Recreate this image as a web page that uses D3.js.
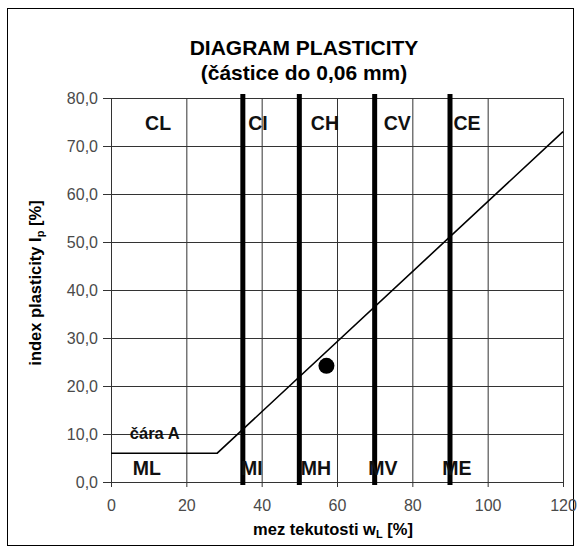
<!DOCTYPE html>
<html lang="cs">
<head>
<meta charset="utf-8">
<title>Diagram plasticity</title>
<script src="https://cdn.jsdelivr.net/npm/d3@7"></script>
<style>
  body { margin: 0; background: #fff; }
  text { font-family: "Liberation Sans", Arial, sans-serif; }
  .grid line, .grid path { stroke: #333; stroke-width: 1; }
  .tick text { fill: #4a4a4a; font-size: 16px; }
  .zone { font-weight: bold; font-size: 19.5px; fill: #111; }
</style>
</head>
<body>
<script>
// data
var xTicks = [0, 20, 40, 60, 80, 100, 120];
var yTicks = [0, 10, 20, 30, 40, 50, 60, 70, 80];
var boundaries = [35, 50, 70, 90];            // hranice tridy (w_L)
var lineA = [[0, 6], [28.2, 6], [120, 73]];    // cara A
var sample = [[57.2, 24.2]];                   // vzorek
var topLabels = ["CL", "CI", "CH", "CV", "CE"];
var topLabelX = [12.5, 39, 56.8, 76, 94.5];
var bottomLabels = ["ML", "MI", "MH", "MV", "ME"];
var bottomLabelX = [9.5, 37.4, 54.4, 72.2, 91.8];

var W = 580, H = 551;
var svg = d3.select("body").append("svg")
    .attr("width", W).attr("height", H);

// outer frame
svg.append("rect")
    .attr("x", 7.5).attr("y", 8.5)
    .attr("width", 566).attr("height", 537)
    .attr("fill", "none").attr("stroke", "#000");

var x = d3.scaleLinear().domain([0, 120]).range([111, 563]);
var y = d3.scaleLinear().domain([0, 80]).range([482, 98]);

// grid
svg.append("g").attr("class", "grid")
  .selectAll("line.v").data(xTicks).enter().append("line")
    .attr("x1", d => x(d) + 0.5).attr("x2", d => x(d) + 0.5)
    .attr("y1", y(80)).attr("y2", y(0) + 5);
svg.append("g").attr("class", "grid")
  .selectAll("line.h").data(yTicks).enter().append("line")
    .attr("y1", d => y(d) + 0.5).attr("y2", d => y(d) + 0.5)
    .attr("x1", x(0) - 8).attr("x2", x(120));

// axes labels (ticks)
var xAxis = d3.axisBottom(x).tickValues(xTicks).tickSize(0).tickPadding(18);
svg.append("g").attr("transform", "translate(0," + y(0) + ")").call(xAxis)
  .call(g => g.select(".domain").remove());
var yAxis = d3.axisLeft(y).tickValues(yTicks).tickSize(0).tickPadding(13)
    .tickFormat(d => d3.format(".1f")(d).replace(".", ","));
svg.append("g").attr("transform", "translate(" + x(0) + ",0)").call(yAxis)
  .call(g => g.select(".domain").remove());

// thick boundaries
svg.append("g").selectAll("line").data(boundaries).enter().append("line")
    .attr("x1", d => x(d)).attr("x2", d => x(d))
    .attr("y1", y(80) - 4).attr("y2", y(0) + 3)
    .attr("stroke", "#000").attr("stroke-width", 5);

// A line
svg.append("path").datum(lineA)
    .attr("d", d3.line().x(d => x(d[0])).y(d => y(d[1])))
    .attr("fill", "none").attr("stroke", "#000").attr("stroke-width", 1.6);

// sample point
svg.selectAll("circle").data(sample).enter().append("circle")
    .attr("cx", d => x(d[0])).attr("cy", d => y(d[1])).attr("r", 8)
    .attr("fill", "#000");

// zone labels
svg.append("g").selectAll("text").data(topLabels).enter().append("text")
    .attr("class", "zone").attr("text-anchor", "middle")
    .attr("x", (d, i) => x(topLabelX[i])).attr("y", y(73.3))
    .text(d => d);
svg.append("g").selectAll("text").data(bottomLabels).enter().append("text")
    .attr("class", "zone").attr("text-anchor", "middle")
    .attr("x", (d, i) => x(bottomLabelX[i])).attr("y", y(1.5))
    .text(d => d);

svg.append("text")
    .attr("x", x(5)).attr("y", y(9))
    .style("font-weight", "bold").style("font-size", "16.5px").attr("fill", "#111")
    .text("čára A");

// titles
svg.append("text").attr("x", 304).attr("y", 55).attr("text-anchor", "middle")
    .style("font-weight", "bold").style("font-size", "21px")
    .text("DIAGRAM PLASTICITY");
svg.append("text").attr("x", 304).attr("y", 80).attr("text-anchor", "middle")
    .style("font-weight", "bold").style("font-size", "21px")
    .text("(částice do 0,06 mm)");

// x title
var xt = svg.append("text").attr("x", 333).attr("y", 535).attr("text-anchor", "middle")
    .style("font-weight", "bold").style("font-size", "16.5px");
xt.append("tspan").text("mez tekutosti w");
xt.append("tspan").attr("dy", 3).style("font-size", "11px").text("L");
xt.append("tspan").attr("dy", -3).text(" [%]");

// y title
var yt = svg.append("text").attr("transform", "translate(41,283) rotate(-90)")
    .attr("text-anchor", "middle")
    .style("font-weight", "bold").style("font-size", "16.5px");
yt.append("tspan").text("index plasticity I");
yt.append("tspan").attr("dy", 3).style("font-size", "11px").text("p");
yt.append("tspan").attr("dy", -3).text(" [%]");
</script>
</body>
</html>
